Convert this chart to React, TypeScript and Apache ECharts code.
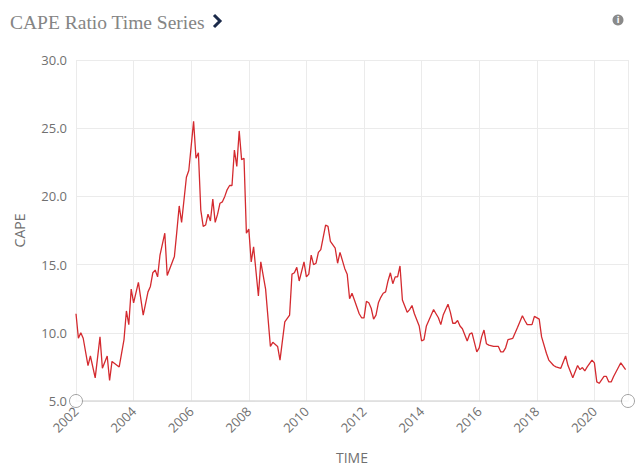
import React, { useEffect, useRef } from "react";
import * as echarts from "echarts";

const titleText = "CAPE Ratio Time Series";
const yAxisName = "CAPE";
const xAxisName = "TIME";
const xStart = "2002-01";
const xEnd = "2021-03";
const yMin = 5;
const yMax = 30;
const yStep = 5;
const xStep = 2;

const dates = [
  "2002-01", "2002-02", "2002-03", "2002-04", "2002-06", "2002-07", "2002-09", "2002-11", "2002-12",
  "2003-02", "2003-03", "2003-04", "2003-07", "2003-09", "2003-10", "2003-11", "2003-12",
  "2004-01", "2004-03", "2004-05", "2004-07", "2004-08", "2004-09", "2004-10", "2004-11", "2004-12",
  "2005-02", "2005-03", "2005-06", "2005-07", "2005-08", "2005-09", "2005-11", "2005-12",
  "2006-02", "2006-03", "2006-04", "2006-05", "2006-06", "2006-07", "2006-08", "2006-09", "2006-10", "2006-11", "2006-12",
  "2007-01", "2007-02", "2007-03", "2007-04", "2007-05", "2007-06", "2007-07", "2007-08", "2007-09", "2007-10", "2007-11", "2007-12",
  "2008-01", "2008-02", "2008-03", "2008-05", "2008-06", "2008-08", "2008-10", "2008-11",
  "2009-01", "2009-02", "2009-04", "2009-06", "2009-07", "2009-08", "2009-09", "2009-10", "2009-12",
  "2010-01", "2010-02", "2010-03", "2010-04", "2010-05", "2010-06", "2010-07", "2010-09", "2010-10", "2010-11",
  "2011-01", "2011-02", "2011-03", "2011-05", "2011-06", "2011-07", "2011-08", "2011-09", "2011-11", "2011-12",
  "2012-01", "2012-02", "2012-03", "2012-04", "2012-05", "2012-06", "2012-07", "2012-08", "2012-09", "2012-10", "2012-11", "2012-12",
  "2013-01", "2013-02", "2013-03", "2013-04", "2013-05", "2013-07", "2013-08", "2013-09", "2013-10", "2013-12",
  "2014-01", "2014-02", "2014-03", "2014-05", "2014-06", "2014-07", "2014-08", "2014-09", "2014-10", "2014-12",
  "2015-01", "2015-02", "2015-03", "2015-04", "2015-05", "2015-06", "2015-08", "2015-09", "2015-10", "2015-11", "2015-12",
  "2016-01", "2016-02", "2016-03", "2016-04", "2016-05", "2016-07", "2016-09", "2016-10", "2016-11", "2016-12",
  "2017-01", "2017-03", "2017-05", "2017-07", "2017-08", "2017-09", "2017-11", "2017-12",
  "2018-02", "2018-03", "2018-05", "2018-06", "2018-08", "2018-09", "2018-11",
  "2019-01", "2019-02", "2019-04", "2019-06", "2019-07", "2019-08", "2019-09", "2019-10", "2019-12",
  "2020-01", "2020-02", "2020-03", "2020-05", "2020-06", "2020-07", "2020-08", "2020-09", "2020-12",
  "2021-02",
];

const cape = [
  11.4, 9.6, 10.0, 9.6, 7.6, 8.3, 6.7, 9.7, 7.4,
  8.3, 6.5, 7.9, 7.5, 9.5, 11.6, 10.6, 13.2,
  12.2, 13.7, 11.3, 13.0, 13.4, 14.4, 14.6, 14.1, 15.7,
  17.3, 14.2, 15.6, 17.4, 19.3, 18.1, 21.4, 21.9,
  25.5, 22.8, 23.2, 19.0, 17.8, 17.9, 18.7, 18.2, 19.8, 18.1, 18.7,
  19.5, 19.6, 20.0, 20.5, 20.8, 20.8, 23.4, 22.2, 24.8, 22.7, 22.8, 17.3,
  17.6, 15.2, 16.3, 12.7, 15.2, 13.2, 9.0, 9.3,
  9.0, 8.0, 10.8, 11.3, 14.3, 14.4, 14.8, 13.8, 15.2,
  14.1, 14.3, 15.7, 15.0, 15.1, 15.9, 16.1, 17.9, 17.8, 16.7,
  16.2, 15.1, 15.9, 14.7, 14.3, 12.5, 12.9, 12.4, 11.4, 11.1,
  11.1, 12.3, 12.2, 11.8, 11.0, 11.3, 12.2, 12.6, 12.9, 13.0, 13.8, 14.4,
  13.6, 14.1, 14.1, 14.9, 12.4, 11.5, 11.7, 12.0, 11.4, 10.5,
  9.4, 9.5, 10.5, 11.3, 11.7, 11.4, 11.1, 10.6, 11.3, 12.1,
  11.5, 10.7, 10.7, 10.9, 10.5, 10.3, 9.4, 9.9, 10.0, 9.3, 8.6,
  8.9, 9.7, 10.2, 9.2, 9.1, 9.0, 9.0, 8.6, 8.6, 8.9,
  9.5, 9.6, 10.4, 11.25, 10.9, 10.6, 10.6, 11.2,
  11.0, 9.7, 8.5, 8.0, 7.6, 7.5, 7.4,
  8.3, 7.6, 6.7, 7.6, 7.3, 7.45, 7.2, 7.5, 8.0,
  7.8, 6.4, 6.3, 6.8, 6.8, 6.4, 6.4, 6.8, 7.8,
  7.3,
];

function toYear(d: string): number {
  const [y, m] = d.split("-").map(Number);
  return y + (m - 1) / 12;
}

export default function App() {
  const ref = useRef<HTMLDivElement>(null);

  useEffect(() => {
    if (!ref.current) return;
    const chart = echarts.init(ref.current, undefined, { renderer: "svg" });
    const xMin = toYear(xStart);
    const xMax = toYear(xEnd);
    const labelFont = "'Open Sans', 'Noto Sans', sans-serif";

    chart.setOption({
      animation: false,
      backgroundColor: "#ffffff",
      title: {
        text: titleText,
        left: 10,
        top: 12,
        padding: 0,
        textStyle: {
          fontFamily: "'Liberation Serif', 'DejaVu Serif', serif",
          fontSize: 19.5,
          fontWeight: "normal",
          color: "#858585",
        },
      },
      graphic: [
        {
          type: "polyline",
          shape: { points: [[214, 15], [220, 21], [214, 27]] },
          style: { stroke: "#1b2a4a", lineWidth: 3, fill: "none" },
        },
        {
          type: "circle",
          shape: { cx: 618, cy: 20, r: 5.5 },
          style: { fill: "#8a8a8a" },
        },
        {
          type: "text",
          x: 618,
          y: 20,
          style: {
            text: "i",
            fill: "#ffffff",
            font: "bold 8px 'DejaVu Sans', sans-serif",
            align: "center",
            verticalAlign: "middle",
          },
        },
      ],
      grid: { left: 76, right: 12, top: 60, bottom: 69 },
      xAxis: {
        type: "value",
        min: xMin,
        max: xMax,
        interval: xStep,
        name: xAxisName,
        nameLocation: "middle",
        nameGap: 49,
        nameTextStyle: { color: "#707070", fontSize: 14, fontFamily: labelFont },
        axisLine: { show: true, lineStyle: { color: "#dcdcdc", width: 1.5 } },
        axisTick: { show: false },
        axisLabel: {
          rotate: 45,
          color: "#707070",
          fontSize: 13,
          fontFamily: labelFont,
          margin: 8,
          showMaxLabel: false,
          formatter: (v: number) =>
            Math.abs(v - Math.round(v)) < 1e-6 ? String(Math.round(v)) : "",
        },
        splitLine: { show: true, lineStyle: { color: "#ebebeb", width: 1 } },
      },
      yAxis: {
        type: "value",
        min: yMin,
        max: yMax,
        interval: yStep,
        name: yAxisName,
        nameLocation: "middle",
        nameGap: 50,
        nameTextStyle: { color: "#707070", fontSize: 14, fontFamily: labelFont },
        axisLine: { show: false },
        axisTick: { show: false },
        axisLabel: {
          color: "#707070",
          fontSize: 13,
          fontFamily: labelFont,
          margin: 9,
          formatter: (v: number) => v.toFixed(1),
        },
        splitLine: { show: true, lineStyle: { color: "#ebebeb", width: 1 } },
      },
      series: [
        {
          type: "line",
          data: dates.map((d, i) => [toYear(d), cape[i]]),
          showSymbol: false,
          symbol: "none",
          lineStyle: { color: "#d42a2f", width: 1.3 },
          itemStyle: { color: "#d42a2f" },
        },
        {
          type: "scatter",
          clip: false,
          data: [[xMin, yMin], [xMax, yMin]],
          symbol: "circle",
          symbolSize: 13,
          itemStyle: { color: "#ffffff", borderColor: "#8c8c8c", borderWidth: 1 },
          z: 5,
        },
      ],
    });
    return () => chart.dispose();
  }, []);

  return (
    <div
      ref={ref}
      style={{ position: "absolute", left: 0, top: 0, width: 640, height: 470 }}
    />
  );
}
